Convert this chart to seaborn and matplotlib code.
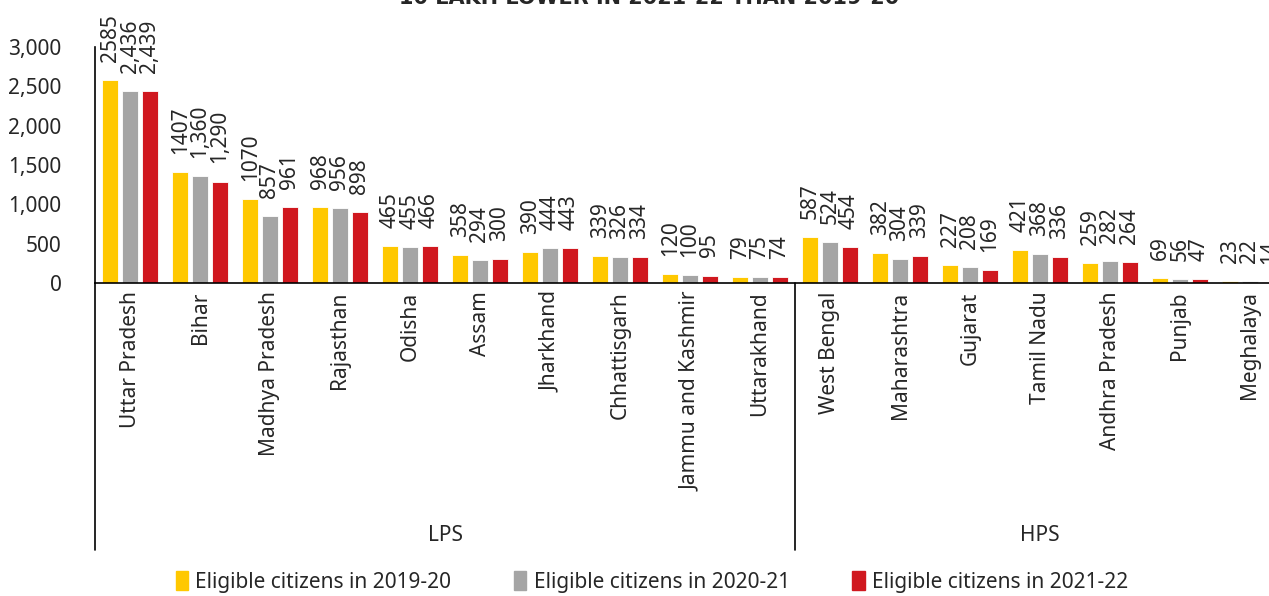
import pandas as pd
import seaborn as sns
import matplotlib.pyplot as plt
import matplotlib.transforms as mtransforms

states = ['Uttar Pradesh', 'Bihar', 'Madhya Pradesh', 'Rajasthan', 'Odisha', 'Assam',
          'Jharkhand', 'Chhattisgarh', 'Jammu and Kashmir', 'Uttarakhand',
          'West Bengal', 'Maharashtra', 'Gujarat', 'Tamil Nadu', 'Andhra Pradesh',
          'Punjab', 'Meghalaya']
groups = ['LPS', 'HPS']
group_sizes = [10, 7]
years = ['Eligible citizens in 2019-20', 'Eligible citizens in 2020-21',
         'Eligible citizens in 2021-22']
v2019 = [2585, 1407, 1070, 968, 465, 358, 390, 339, 120, 79, 587, 382, 227, 421, 259, 69, 23]
v2020 = [2436, 1360, 857, 956, 455, 294, 444, 326, 100, 75, 524, 304, 208, 368, 282, 56, 22]
v2021 = [2439, 1290, 961, 898, 466, 300, 443, 334, 95, 74, 454, 339, 169, 336, 264, 47, 14]
yticks = [0, 500, 1000, 1500, 2000, 2500, 3000]
colors = ['#FFC800', '#A5A5A5', '#D0181F']

rows = []
for yr, vals in zip(years, [v2019, v2020, v2021]):
    for s, v in zip(states, vals):
        rows.append({'state': s, 'year': yr, 'value': v})
df = pd.DataFrame(rows)

sns.set_style('white')
plt.rcParams['font.family'] = ['Noto Sans', 'DejaVu Sans']

fig = plt.figure(figsize=(12.69, 5.96), dpi=100)
ax = fig.add_axes([95 / 1269, 1 - 283 / 596, 1190 / 1269, 236 / 596])

sns.barplot(data=df, x='state', y='value', hue='year', palette=colors,
            saturation=1, width=0.84, gap=0.18, edgecolor='white', linewidth=0.6,
            errorbar=None, ax=ax)

# value labels: first series without thousands separator, like the source
for i, cont in enumerate(ax.containers):
    vals = [v2019, v2020, v2021][i]
    labels = [str(v) if i == 0 else f'{v:,}' for v in vals]
    ax.bar_label(cont, labels=labels, rotation=90, padding=13, fontsize=15)

ax.set_xlim(-0.5, len(states) - 0.5)
ax.set_ylim(0, 3000)
ax.set_yticks(yticks)
ax.set_yticklabels([f'{t:,}' for t in yticks], fontsize=15)
ax.tick_params(axis='y', length=0, pad=24)
ax.tick_params(axis='x', length=0, pad=6)
ax.set_xticks(range(len(states)))
ax.set_xticklabels(states, rotation=90, fontsize=15, va='top')
ax.set_xlabel('')
ax.set_ylabel('')
for s in ['top', 'right']:
    ax.spines[s].set_visible(False)
for s in ['left', 'bottom']:
    ax.spines[s].set_color('black')
    ax.spines[s].set_linewidth(1.2)

# group separators and labels under the category axis
trans = mtransforms.blended_transform_factory(ax.transData, ax.transAxes)
start = 0
for g, n in zip(groups, group_sizes):
    ax.plot([start - 0.5, start - 0.5], [0, -1.131], transform=trans,
            color='black', lw=1.2, clip_on=False)
    ax.text(start + (n - 1) / 2, -1.068, g, transform=trans, ha='center',
            va='center', fontsize=15)
    start += n

ax.legend_.remove()
handles = [plt.Rectangle((0, 0), 1, 1, color=c) for c in colors]
fig.legend(handles, years, loc='center', bbox_to_anchor=(652 / 1269, 1 - 582 / 596),
           ncol=3, frameon=False, fontsize=15, handlelength=0.6, handleheight=1.0,
           handletextpad=0.35, columnspacing=3.0)

# the title sits mostly above the image, only its lower edge shows
fig.text(649 / 1269, 1 - 4 / 596, '10 LAKH LOWER IN 2021-22 THAN 2019-20',
         ha='center', va='baseline', fontsize=15, fontweight='bold',
         family='DejaVu Sans')

fig.savefig('out.png', dpi=100)
